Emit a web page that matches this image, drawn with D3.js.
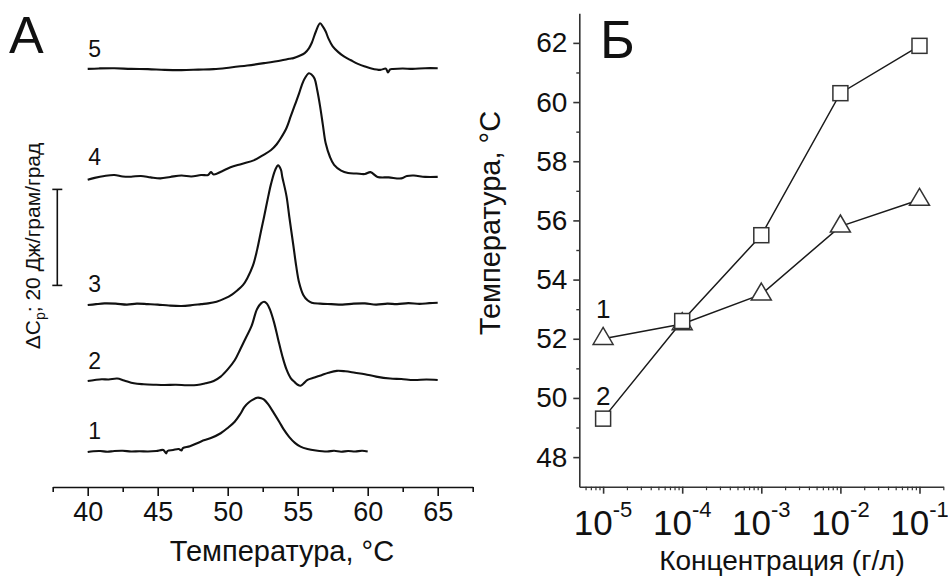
<!DOCTYPE html>
<html><head><meta charset="utf-8">
<script src="https://cdn.jsdelivr.net/npm/d3@7"></script>
<style>body{margin:0;background:#fff;} svg{display:block;} text{font-family:"Liberation Sans",Arial,sans-serif;}</style>
</head><body><svg id="chart" width="948" height="580"></svg>
<script>
// ---------- Panel A data: excess heat capacity (relative to each curve's baseline) ----------
const curve1 = [[40,-0.1],[40.4,0.05],[40.9,0.1],[41.4,-0.05],[41.9,0.1],[42.5,0.15],[43.1,0],[43.7,0.05],[44.3,0],[44.9,0.1],[45.4,0.3],[45.6,-0.4],[45.7,0.1],[46.1,0.3],[46.5,0.5],[46.7,0.2],[46.8,0.7],[47.3,1.1],[48.1,2.1],[48.8,2.8],[49.5,3.8],[50.0,4.9],[50.5,6.2],[50.9,7.8],[51.2,9.3],[51.5,10.2],[51.8,10.8],[52.1,11.2],[52.4,11.1],[52.6,10.8],[52.9,9.8],[53.3,8.0],[53.7,6.1],[54.0,4.6],[54.4,3.0],[54.8,1.8],[55.2,1.0],[55.7,0.5],[56.3,0.2],[57.1,0],[57.6,0.15],[58.1,-0.05],[58.6,0.1],[59.1,0],[59.6,0.15],[60.0,0]];
const curve2 = [[40,0],[40.5,0.2],[41.0,0.35],[41.5,0.3],[42.1,0.5],[42.6,0.1],[43.3,-0.5],[44,-0.7],[44.8,-0.8],[45.5,-0.85],[46.3,-0.8],[47.1,-0.9],[47.8,-0.85],[48.4,-0.5],[49.0,0],[49.5,0.9],[50.0,2.4],[50.5,4.3],[50.9,6.6],[51.3,9.0],[51.7,11.4],[52.1,15.0],[52.4,16.2],[52.6,16.5],[52.8,16.1],[53.0,15.0],[53.3,12.3],[53.6,8.7],[53.9,5.2],[54.2,2.4],[54.5,0.6],[54.8,-0.3],[55.0,-0.8],[55.2,-1.0],[55.4,-0.6],[55.7,0.2],[56.2,0.7],[56.7,1.2],[57.2,1.7],[57.8,2.1],[58.4,2.0],[59.1,1.7],[59.8,1.4],[60.6,0.9],[61.6,0.5],[62.4,0.4],[63.3,0.2],[64.2,0.3],[65,0.2]];
const curve3 = [[40,-0.2],[40.6,0],[41.2,0.15],[42,0.1],[42.8,-0.1],[43.5,0.1],[44.3,0],[45,-0.1],[45.8,-0.3],[46.7,-0.4],[47.5,-0.2],[48.1,0],[48.6,0.15],[49.2,0.5],[49.8,1.2],[50.3,2.0],[50.7,2.9],[51.1,4.0],[51.4,5.4],[51.8,8.0],[52.1,11.3],[52.4,15.5],[52.6,18.2],[52.9,22.5],[53.1,25.1],[53.4,28.0],[53.6,28.9],[53.8,28.0],[53.9,26.5],[54.2,22.5],[54.4,18.2],[54.7,12.0],[54.9,7.8],[55.1,4.5],[55.4,1.9],[55.7,0.8],[56.0,0.3],[56.6,0.1],[57.4,0],[58.2,-0.1],[59.0,0.1],[59.8,0.15],[60.6,-0.1],[61.4,0.1],[62.1,0],[62.9,0.2],[63.7,0.05],[64.4,0.2],[65,0.3]];
const curve4 = [[40,-0.6],[40.5,-0.2],[41.2,0.2],[41.9,0.4],[42.5,0.1],[43.1,0.05],[43.8,0.2],[44.5,-0.1],[45.2,-0.3],[45.9,0],[46.7,0.3],[47.4,0.1],[48.1,0.4],[48.6,0.4],[48.8,1.0],[49.0,0.5],[49.6,1.2],[50.2,2.0],[51.0,2.7],[51.9,3.5],[52.5,4.5],[53.1,5.6],[53.5,6.8],[53.8,8.1],[54.2,10.2],[54.5,12.6],[54.8,15.0],[55.1,17.4],[55.3,19.2],[55.5,20.5],[55.8,21.6],[56.0,21.3],[56.2,20.5],[56.4,18.0],[56.6,14.7],[56.8,10.8],[57.0,7.0],[57.3,4.2],[57.6,2.5],[58.1,1.3],[58.6,0.8],[59.2,0.7],[59.8,0.6],[60.2,1.0],[60.7,0],[61.5,-0.1],[62.4,-0.3],[62.8,0.2],[63.3,0.3],[64.1,0],[65,0]];
const curve5 = [[40,0],[40.8,0.1],[41.9,0.15],[43.1,0],[44.3,-0.05],[45.5,-0.2],[46.7,-0.25],[47.9,-0.15],[49.0,-0.05],[50.2,0.3],[51.4,0.7],[52.6,1.2],[53.8,1.75],[54.4,2.1],[54.7,2.25],[55.1,2.7],[55.5,3.3],[55.8,4.3],[56.0,5.4],[56.3,7.8],[56.6,9.5],[56.8,8.8],[57.0,7.8],[57.2,6.3],[57.5,4.7],[57.9,3.5],[58.3,2.6],[58.8,1.8],[59.3,1.05],[59.8,0.5],[60.2,0.15],[60.9,-0.2],[61.3,0.05],[61.45,-0.75],[61.6,-0.1],[61.8,0],[62.5,0.1],[63.2,0],[64.1,0.15],[65,0.15]];
const curveNames = ["1","2","3","4","5"];
const curveOffsets = [7.4, 22.1, 38.1, 64.6, 87.1]; // vertical stacking offsets, J/g/K
const tempTicks = [40,45,50,55,60,65];
const scaleBarValue = 20;

// ---------- Panel B data ----------
const concentrations = [1e-5, 1e-4, 1e-3, 1e-2, 1e-1];
const tm1 = [52.0, 52.5, 53.5, 55.8, 56.7]; // triangles (1)
const tm2 = [49.3, 52.6, 55.5, 60.3, 61.9]; // squares (2)
const tmTicks = [48,50,52,54,56,58,60,62];
const concExponents = [-5,-4,-3,-2,-1];

const svg = d3.select("#chart");
const INK = "#111";

// ================= Panel A =================
const xA = d3.scaleLinear().domain([37.5, 67.5]).range([52.7, 472.7]);
const yA = d3.scaleLinear().domain([0, 100]).range([487, 7]);
const gA = svg.append("g");

const axA = gA.append("g").attr("transform", `translate(0,${yA(0)})`)
  .call(d3.axisBottom(xA).tickValues(tempTicks).tickSize(9).tickSizeOuter(0).tickPadding(6).tickFormat(d3.format("d")));
axA.select(".domain").attr("stroke", INK).attr("stroke-width", 1.6);
axA.selectAll(".tick line").attr("stroke", INK).attr("stroke-width", 1.6);
axA.selectAll(".tick text").attr("font-size", 27).attr("fill", INK);
gA.append("g").attr("transform", `translate(0,${yA(0)})`)
  .call(d3.axisBottom(xA).tickValues(d3.range(37.5, 67.6, 5)).tickSize(5).tickFormat(""))
  .call(g => { g.select(".domain").remove(); g.selectAll("line").attr("stroke", INK).attr("stroke-width", 1.6); });

gA.append("text").attr("x", 282).attr("y", 561).attr("text-anchor", "middle")
  .attr("font-size", 29).attr("fill", INK).text("Температура, °C");

const lineA = d3.line().x(d => xA(d[0])).y(d => d[1]).curve(d3.curveCatmullRom.alpha(0.5));
[curve1, curve2, curve3, curve4, curve5].forEach((c, i) => {
  const off = curveOffsets[i];
  gA.append("path").datum(c.map(p => [p[0], yA(off + p[1])]))
    .attr("d", lineA).attr("fill", "none").attr("stroke", INK).attr("stroke-width", 2.1)
    .attr("stroke-linejoin", "round");
  gA.append("text").attr("x", xA(40) + 0.5).attr("y", yA(off) - 12)
    .attr("font-size", 23).attr("fill", INK).text(curveNames[i]);
});

// scale bar
const sbX = 57.3, sb0 = yA(42), sb1 = yA(42 + scaleBarValue);
gA.append("line").attr("x1", sbX).attr("x2", sbX).attr("y1", sb0).attr("y2", sb1).attr("stroke", INK).attr("stroke-width", 1.6);
[sb0, sb1].forEach(y => gA.append("line").attr("x1", sbX - 5).attr("x2", sbX + 5).attr("y1", y).attr("y2", y).attr("stroke", INK).attr("stroke-width", 1.6));

const yl = gA.append("text").attr("transform", "translate(40,246) rotate(-90)")
  .attr("text-anchor", "middle").attr("font-size", 21).attr("fill", INK);
yl.append("tspan").text("ΔC");
yl.append("tspan").attr("font-size", 14).attr("dy", 5).text("p");
yl.append("tspan").attr("dy", -5).text("; 20 Дж/грам/град");

gA.append("text").attr("x", 9).attr("y", 53).attr("font-size", 52).attr("fill", INK).text("А");

// ================= Panel B =================
const xB = d3.scaleLog().domain([5e-6, 0.2]).range([579.3, 943.3]);
const yB = d3.scaleLinear().domain([47, 63]).range([486.7, 13.3]);
const gB = svg.append("g");
const AX = "#333";

const axBy = gB.append("g").attr("transform", `translate(${xB.range()[0]},0)`)
  .call(d3.axisLeft(yB).tickValues(tmTicks).tickSize(6).tickSizeOuter(0).tickPadding(6).tickFormat(d3.format("d")));
axBy.select(".domain").attr("stroke", AX).attr("stroke-width", 1.6);
axBy.selectAll(".tick line").attr("stroke", AX).attr("stroke-width", 1.6);
axBy.selectAll(".tick text").attr("font-size", 28).attr("fill", INK);
gB.append("g").attr("transform", `translate(${xB.range()[0]},0)`)
  .call(d3.axisLeft(yB).tickValues(d3.range(49, 63, 2)).tickSize(3).tickFormat(""))
  .call(g => { g.select(".domain").remove(); g.selectAll("line").attr("stroke", AX).attr("stroke-width", 1.4); });

const axBx = gB.append("g").attr("transform", `translate(0,${yB.range()[0]})`)
  .call(d3.axisBottom(xB).tickValues(concentrations).tickSize(7).tickSizeOuter(0).tickFormat(""));
axBx.select(".domain").attr("stroke", AX).attr("stroke-width", 1.6);
axBx.selectAll(".tick line").attr("stroke", AX).attr("stroke-width", 1.6);
const minorLog = [];
for (let e = -6; e <= -1; e++) for (let m = 2; m <= 9; m++) { const v = m * Math.pow(10, e); if (v >= 5e-6 && v <= 0.2001) minorLog.push(v); }
gB.append("g").attr("transform", `translate(0,${yB.range()[0]})`)
  .call(d3.axisBottom(xB).tickValues(minorLog).tickSize(3.5).tickFormat(""))
  .call(g => { g.select(".domain").remove(); g.selectAll("line").attr("stroke", AX).attr("stroke-width", 1.2); });

concentrations.forEach((c, i) => {
  const t = gB.append("text").attr("x", xB(c)).attr("y", 535).attr("text-anchor", "middle")
    .attr("font-size", 35).attr("fill", INK);
  t.append("tspan").text("10");
  t.append("tspan").attr("font-size", 22).attr("dy", -18).text(String(concExponents[i]));
});

gB.append("text").attr("x", 782).attr("y", 570).attr("text-anchor", "middle")
  .attr("font-size", 28).attr("fill", INK).text("Концентрация (г/л)");
gB.append("text").attr("transform", "translate(500,223) rotate(-90)").attr("text-anchor", "middle")
  .attr("font-size", 29).attr("fill", INK).text("Температура, °C");
gB.append("text").attr("x", 600).attr("y", 58).attr("font-size", 53).attr("fill", INK).text("Б");

const lineB = d3.line().x(d => xB(d[0])).y(d => yB(d[1]));
const s1 = concentrations.map((c, i) => [c, tm1[i]]);
const s2 = concentrations.map((c, i) => [c, tm2[i]]);
[s1, s2].forEach(s => gB.append("path").datum(s).attr("d", lineB).attr("fill", "none")
  .attr("stroke", "#1a1a1a").attr("stroke-width", 1.5));

const triW = 20, triH = 17;
gB.selectAll(".tri").data(s1).join("path")
  .attr("transform", d => `translate(${xB(d[0])},${yB(d[1])})`)
  .attr("d", `M0,${-triH * 2 / 3}L${triW / 2},${triH / 3}L${-triW / 2},${triH / 3}Z`)
  .attr("fill", "#fff").attr("stroke", "#333").attr("stroke-width", 1.5);
const sq = 15;
gB.selectAll(".sq").data(s2).join("rect")
  .attr("x", d => xB(d[0]) - sq / 2).attr("y", d => yB(d[1]) - sq / 2)
  .attr("width", sq).attr("height", sq)
  .attr("fill", "#fff").attr("stroke", "#333").attr("stroke-width", 1.5);

gB.append("text").attr("x", xB(1e-5)).attr("y", 318).attr("text-anchor", "middle").attr("font-size", 26).attr("fill", INK).text("1");
gB.append("text").attr("x", xB(1e-5)).attr("y", 405).attr("text-anchor", "middle").attr("font-size", 26).attr("fill", INK).text("2");
</script></body></html>
